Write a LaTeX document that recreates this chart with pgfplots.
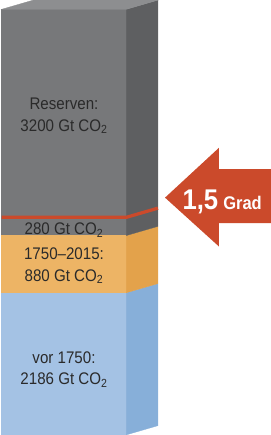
\documentclass[border=0pt]{standalone}
\usepackage{pgfplots}
\pgfplotsset{compat=1.18}
\usepackage{fontspec}
\setmainfont{Liberation Sans}[FakeStretch=0.9]
\definecolor{grayfront}{HTML}{77787A}
\definecolor{grayside}{HTML}{5E5F61}
\definecolor{graytop}{HTML}{8D8E90}
\definecolor{orangefront}{HTML}{EDB465}
\definecolor{orangeside}{HTML}{E3A24B}
\definecolor{bluefront}{HTML}{A4C2E4}
\definecolor{blueside}{HTML}{87AFD9}
\definecolor{redc}{HTML}{CB4A2B}
\definecolor{txt}{HTML}{2A2A2A}
\begin{document}
\begin{tikzpicture}
\pgfplotsset{base/.style={width=272pt,height=435pt,scale only axis,hide axis,
  xmin=0,xmax=272,ymin=-31.3,ymax=6781,clip=false}}
% front faces: stacked bar
\begin{axis}[base, ybar stacked, bar width=122.5, bar shift=0pt]
\addplot[fill=bluefront,draw=bluefront,line width=0.3pt] coordinates {(68.75,2186)};
\addplot[fill=orangefront,draw=orangefront,line width=0.3pt] coordinates {(68.75,880)};
\addplot[fill=grayfront,draw=grayfront,line width=0.3pt] coordinates {(68.75,280)};
\addplot[fill=grayfront,draw=grayfront,line width=0.3pt] coordinates {(68.75,3200)};
\end{axis}
% side, top, marker line and annotations
\begin{axis}[base]
\addplot[fill=blueside,draw=blueside,line width=0.3pt] coordinates {(130,0)(161,141)(161,2327)(130,2186)} --cycle;
\addplot[fill=orangeside,draw=orangeside,line width=0.3pt] coordinates {(130,2186)(161,2327)(161,3207)(130,3066)} --cycle;
\addplot[fill=grayside,draw=grayside,line width=0.3pt] coordinates {(130,3066)(161,3207)(161,6687)(130,6546)} --cycle;
\addplot[fill=graytop,draw=graytop,line width=0.3pt] coordinates {(7.5,6546)(130,6546)(161,6687)(38.5,6687)} --cycle;
\addplot[redc,line width=3.2pt] coordinates {(7.5,3346)(130,3346)(161,3487)};
\addplot[fill=redc,draw=none] coordinates {(168,3649)(221,4416)(221,4087)(272,4087)(272,3257)(221,3257)(221,2897)} --cycle;
\node[anchor=base west,inner sep=0,text=white] at (axis cs:185,3461)
  {\bfseries\fontsize{28}{28}\selectfont 1,5\hspace{5pt}\fontsize{18}{18}\selectfont Grad};
\node[align=center,text=txt,font=\fontsize{16.5}{21}\selectfont] at (axis cs:68.75,4902)
  {Reserven:\\3200 Gt CO\textsubscript{2}};
\node[align=center,text=txt,font=\fontsize{16.5}{21}\selectfont] at (axis cs:68.75,3145)
  {280 Gt CO\textsubscript{2}};
\node[align=center,text=txt,font=\fontsize{16.5}{21}\selectfont] at (axis cs:68.75,2600)
  {1750–2015:\\880 Gt CO\textsubscript{2}};
\node[align=center,text=txt,font=\fontsize{16.5}{21}\selectfont] at (axis cs:68.75,1010)
  {vor 1750:\\2186 Gt CO\textsubscript{2}};
\end{axis}
\end{tikzpicture}
\end{document}
